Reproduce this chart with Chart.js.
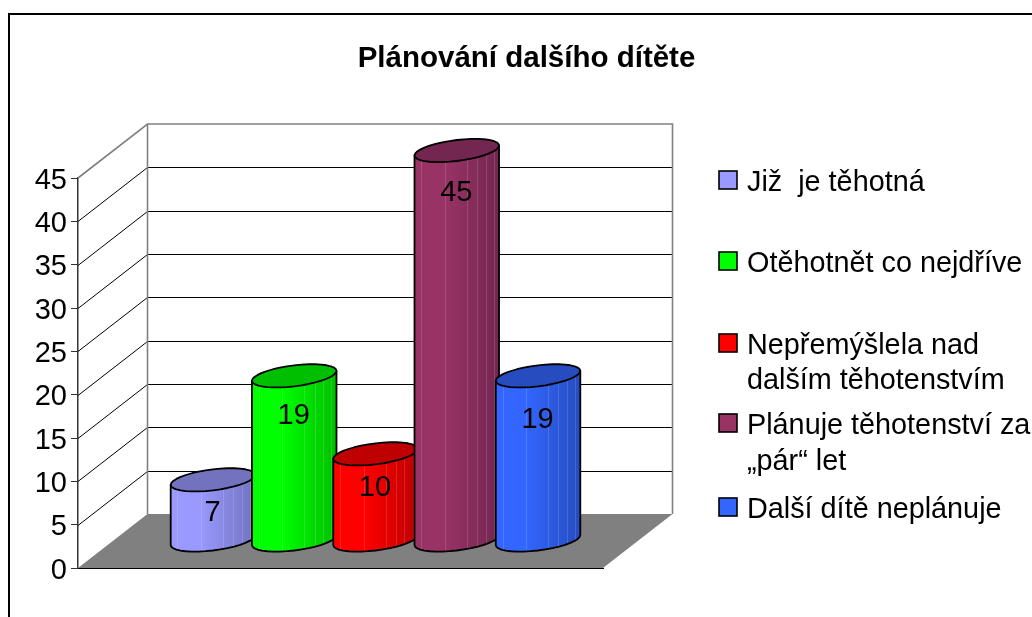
<!DOCTYPE html>
<html><head><meta charset="utf-8">
<style>html,body{margin:0;padding:0;background:#fff}canvas{display:block}</style>
<script src="https://cdn.jsdelivr.net/npm/chart.js@4"></script></head>
<body><canvas id="c" width="1032" height="617"></canvas>
<script>
const chartTitle = 'Plánování dalšího dítěte';
const categories = [''];
const seriesNames = ['Již  je těhotná','Otěhotnět co nejdříve','Nepřemýšlela nad dalším těhotenstvím','Plánuje těhotenství za „pár“ let','Další dítě neplánuje'];
const seriesValues = [7,19,10,45,19];
const legendLines = [['Již  je těhotná'],['Otěhotnět co nejdříve'],['Nepřemýšlela nad','dalším těhotenstvím'],['Plánuje těhotenství za','„pár“ let'],['Další dítě neplánuje']];
const baseColors = ['#9999FF','#00FF00','#FF0000','#993366','#3366FF'];
const darkColors = ['#7272BF','#00BF00','#BF0000','#732650','#264CBF'];
const labelDrop = [33,40,34,42,44];
const legendRowY = [[181],[262],[344,379],[424,460],[508]];

const FONT = '"Liberation Sans", Arial, sans-serif';
const WALL = {dx:69.5, dy:54}, BAR = {dx:35, dy:27.5, a:1.04, b:10.5, s:5};

function wall3d(ctx, chart){
  const {left:l,right:r,top:t,bottom:b} = chart.chartArea, y = chart.scales.y, d = WALL;
  ctx.save();
  ctx.fillStyle='#808080';
  ctx.beginPath();ctx.moveTo(l,b);ctx.lineTo(l+d.dx,b-d.dy);ctx.lineTo(r+d.dx,b-d.dy);ctx.lineTo(r,b);ctx.closePath();ctx.fill();
  ctx.strokeStyle='#000';ctx.lineWidth=1;
  y.ticks.forEach(tk=>{
    if(tk.value===0||tk.value===y.max) return;
    const py=Math.round(y.getPixelForValue(tk.value))+.5;
    ctx.beginPath();ctx.moveTo(l,py);ctx.lineTo(l+d.dx,py-d.dy);ctx.lineTo(r+d.dx,py-d.dy);ctx.stroke();
  });
  ctx.strokeStyle='#808080';ctx.lineWidth=1.6;
  ctx.beginPath();ctx.moveTo(l,t);ctx.lineTo(l+d.dx,t-d.dy);ctx.lineTo(r+d.dx,t-d.dy);ctx.lineTo(r+d.dx,b-d.dy);ctx.stroke();
  ctx.beginPath();ctx.moveTo(l+d.dx,t-d.dy);ctx.lineTo(l+d.dx,b-d.dy);ctx.stroke();
  ctx.restore();
}
function cylinder(ctx, el, i){
  const w=el.width, a=w/2*BAR.a, cx=el.x+BAR.dx, top=el.y-BAR.dy, base=el.base-BAR.dy, {b,s}=BAR;
  const pt=(cy,t)=>[cx+a*Math.cos(t), cy+b*Math.sin(t)-s*Math.cos(t)];
  const N=18;
  ctx.save();
  const body=new Path2D();
  body.moveTo(...pt(top,Math.PI));
  body.lineTo(...pt(base,Math.PI));
  for(let k=1;k<=N;k++){body.lineTo(...pt(base,Math.PI-Math.PI*k/N));}
  body.lineTo(...pt(top,0));
  body.closePath();
  const g=ctx.createLinearGradient(cx-a,0,cx+a,0);
  g.addColorStop(0,baseColors[i]);g.addColorStop(.35,baseColors[i]);g.addColorStop(1,darkColors[i]);
  ctx.fillStyle=g;ctx.fill(body);
  ctx.save();ctx.clip(body);
  ctx.strokeStyle='rgba(255,255,255,.14)';ctx.lineWidth=1;
  [.08,.36,.62,.74,.84,.94].forEach(f=>{const x=Math.round(cx-a+2*a*f)+.5;ctx.beginPath();ctx.moveTo(x,top-20);ctx.lineTo(x,base+20);ctx.stroke();});
  ctx.restore();
  ctx.strokeStyle='#000';ctx.lineWidth=1.8;ctx.lineJoin='round';ctx.stroke(body);
  const cap=new Path2D();
  for(let k=0;k<2*N;k++){const p=pt(top,Math.PI*k/N);k?cap.lineTo(...p):cap.moveTo(...p);}
  cap.closePath();ctx.fillStyle=darkColors[i];ctx.fill(cap);ctx.stroke(cap);
  ctx.restore();
}
const chart3d = {
  id:'chart3d',
  beforeDatasetsDraw(chart){
    const ctx=chart.ctx;
    wall3d(ctx,chart);
    seriesValues.forEach((v,i)=>cylinder(ctx,chart.getDatasetMeta(i).data[0],i));
    ctx.save();
    ctx.fillStyle='#000';ctx.font='29px '+FONT;ctx.textAlign='center';ctx.textBaseline='middle';
    seriesValues.forEach((v,i)=>{
      const el=chart.getDatasetMeta(i).data[0];
      ctx.fillText(String(v),el.x+BAR.dx-0.5,el.y-BAR.dy+labelDrop[i]);
    });
    ctx.restore();
  },
  beforeDatasetDraw(){return false;},
  afterDraw(chart){
    const ctx=chart.ctx;
    ctx.save();
    ctx.strokeStyle='#000';ctx.lineWidth=2;
    ctx.beginPath();ctx.moveTo(9,617);ctx.lineTo(9,14);ctx.lineTo(1032,14);ctx.stroke();
    ctx.font='28.8px '+FONT;ctx.textBaseline='middle';ctx.textAlign='left';
    legendLines.forEach((lines,i)=>{
      const sy=legendRowY[i][0]-1;
      ctx.fillStyle=baseColors[i];ctx.strokeStyle='#000';ctx.lineWidth=1.6;
      ctx.fillRect(719,sy-9,18,18);ctx.strokeRect(719,sy-9,18,18);
      ctx.fillStyle='#000';
      lines.forEach((t,j)=>ctx.fillText(t,747,legendRowY[i][j]+2));
    });
    ctx.restore();
  }
};
new Chart(document.getElementById('c'),{
  type:'bar',
  data:{labels:categories,datasets:seriesNames.map((n,i)=>({label:n,data:[seriesValues[i]],backgroundColor:baseColors[i],yAxisID:'y'}))},
  plugins:[chart3d],
  options:{
    responsive:false,animation:false,
    layout:{padding:{left:21,top:0,right:0,bottom:0}},
    datasets:{bar:{barPercentage:1,categoryPercentage:0.774}},
    plugins:{
      legend:{display:false},tooltip:{enabled:false},
      title:{display:true,text:chartTitle,color:'#000',font:{family:FONT,size:29.5,weight:'bold',lineHeight:1.2},padding:{top:41.3,bottom:101.3}}
    },
    scales:{
      x:{grid:{display:false},border:{display:true,color:'#000',width:1},ticks:{display:false},afterFit(s){s.height=49;}},
      y:{min:0,max:45,ticks:{stepSize:5,color:'#000',padding:4,font:{family:FONT,size:29,lineHeight:'5px'},callback:v=>['',String(v)]},
         grid:{drawOnChartArea:false,drawTicks:true,tickLength:7,color:'#333'},border:{display:true,color:'#333',width:1.5},
         afterFit(s){s.width=57;}},
      legendSpace:{position:'right',display:true,min:0,max:1,grid:{display:false},border:{display:false},ticks:{display:false},afterFit(s){s.width=429;}}
    }
  }
});
</script></body></html>
